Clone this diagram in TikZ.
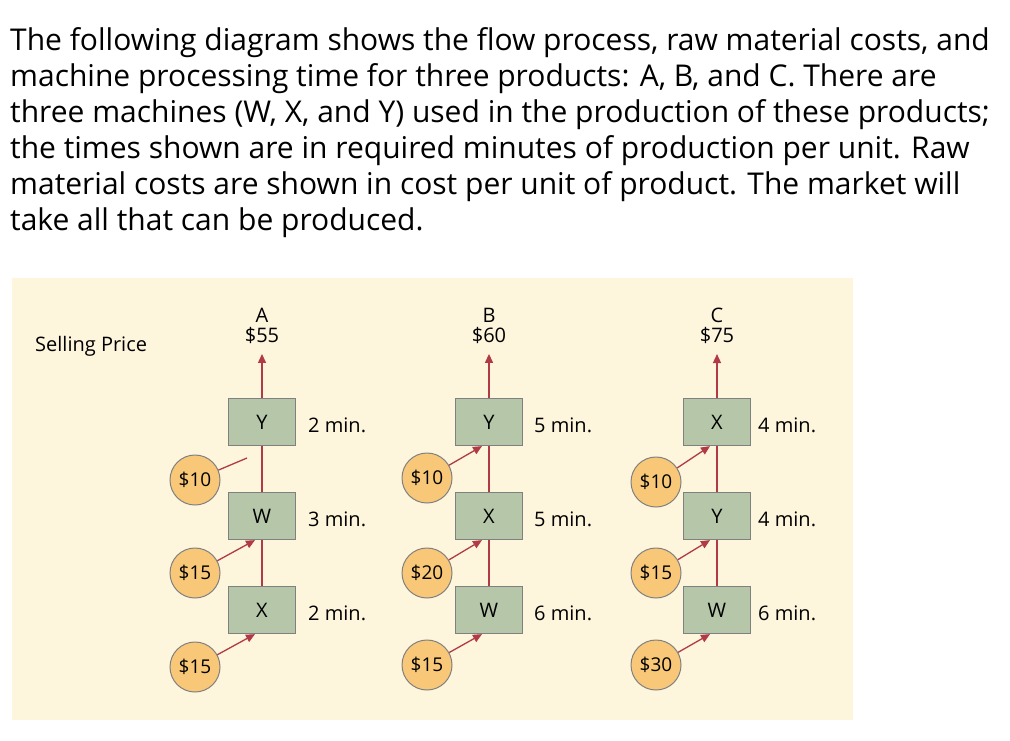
\documentclass[tikz,border=0pt]{standalone}
\usepackage{fontspec}
\setmainfont{Open Sans}
\newfontfamily\diagfont{Open Sans}
\usetikzlibrary{calc,arrows.meta}
\definecolor{bgc}{HTML}{FDF5DC}
\definecolor{boxc}{HTML}{B6C7A9}
\definecolor{circc}{HTML}{F8C878}
\definecolor{arrc}{HTML}{B03A48}
\definecolor{edgec}{HTML}{808080}
\tikzset{
 mach/.style={draw=edgec,line width=1.2pt,fill=boxc,minimum width=67pt,minimum height=47pt,inner sep=0pt,font=\diagfont\fontsize{20}{20}\selectfont},
 cost/.style={circle,draw=edgec,line width=1pt,fill=circc,minimum size=50pt,inner sep=0pt,font=\diagfont\fontsize{19}{19}\selectfont},
 lbl/.style={font=\diagfont\fontsize{20}{20}\selectfont,inner sep=0pt},
 tline/.style={font=\fontsize{30}{30}\selectfont,anchor=base west,inner sep=0pt},
 flow/.style={draw=arrc,line width=1.3pt},
 flowa/.style={flow,-{Triangle[length=9pt,width=8pt]}},
}
\begin{document}
\begin{tikzpicture}[x=1pt,y=-1pt]
\useasboundingbox (0,0) rectangle (1010,740);
\node[tline] (t1) at (10,50) {The following diagram shows the flow process, raw material costs, and};
\node[tline] (t2) at (10,86) {machine processing time for three products: A, B, and C. There are};
\node[tline] (t3) at (10,122) {three machines (W, X, and Y) used in the production of these products;};
\node[tline] (t4) at (10,158) {the times shown are in required minutes of production per unit. Raw};
\node[tline] (t5) at (10,194) {material costs are shown in cost per unit of product. The market will};
\node[tline] (t6) at (10,230) {take all that can be produced.};
\fill[bgc] (12,278) rectangle (853,720);
\node[lbl,anchor=west] (sp) at (35,346) {Selling Price};
% column A
\node[lbl,align=center] (pA) at (262,326) {A\\[0pt]\$55};
\node[mach] (a1) at (262,422) {Y};
\node[mach] (a2) at (262,516) {W};
\node[mach] (a3) at (262,610) {X};
\node[lbl,anchor=west] (ta1) at (308,425) {2 min.};
\node[lbl,anchor=west] (ta2) at (308,519) {3 min.};
\node[lbl,anchor=west] (ta3) at (308,613) {2 min.};
\node[cost] (ca1) at (195,480) {\$10};
\node[cost] (ca2) at (195,573) {\$15};
\node[cost] (ca3) at (195,667) {\$15};
\coordinate (ea1) at (247,458);
\draw[flowa] (a1.north) -- ($(pA.south)+(0,10)$);
\draw[flow] (a2.north) -- (a1.south);
\draw[flow] (a3.north) -- (a2.south);
\draw[flow] (ca1) -- (ea1);
\draw[flowa] (ca2) -- ($(a2.south)+(-7,0)$);
\draw[flowa] (ca3) -- ($(a3.south)+(-7,0)$);
% column B
\node[lbl,align=center] (pB) at (489,326) {B\\[0pt]\$60};
\node[mach] (b1) at (489,422) {Y};
\node[mach] (b2) at (489,516) {X};
\node[mach] (b3) at (489,610) {W};
\node[lbl,anchor=west] (tb1) at (534,425) {5 min.};
\node[lbl,anchor=west] (tb2) at (534,519) {5 min.};
\node[lbl,anchor=west] (tb3) at (534,613) {6 min.};
\node[cost] (cb1) at (427,478) {\$10};
\node[cost] (cb2) at (427,573) {\$20};
\node[cost] (cb3) at (427,665) {\$15};
\draw[flowa] (b1.north) -- ($(pB.south)+(0,10)$);
\draw[flow] (b2.north) -- (b1.south);
\draw[flow] (b3.north) -- (b2.south);
\draw[flowa] (cb1) -- ($(b1.south)+(-7,0)$);
\draw[flowa] (cb2) -- ($(b2.south)+(-7,0)$);
\draw[flowa] (cb3) -- ($(b3.south)+(-7,0)$);
% column C
\node[lbl,align=center] (pC) at (717,326) {C\\[0pt]\$75};
\node[mach] (c1) at (717,422) {X};
\node[mach] (c2) at (717,516) {Y};
\node[mach] (c3) at (717,610) {W};
\node[lbl,anchor=west] (tc1) at (758,425) {4 min.};
\node[lbl,anchor=west] (tc2) at (758,519) {4 min.};
\node[lbl,anchor=west] (tc3) at (758,613) {6 min.};
\node[cost] (cc1) at (656,482) {\$10};
\node[cost] (cc2) at (656,573) {\$15};
\node[cost] (cc3) at (656,665) {\$30};
\draw[flowa] (c1.north) -- ($(pC.south)+(0,10)$);
\draw[flow] (c2.north) -- (c1.south);
\draw[flow] (c3.north) -- (c2.south);
\draw[flowa] (cc1) -- ($(c1.south)+(-7,0)$);
\draw[flowa] (cc2) -- ($(c2.south)+(-7,0)$);
\draw[flowa] (cc3) -- ($(c3.south)+(-7,0)$);
\end{tikzpicture}
\end{document}
